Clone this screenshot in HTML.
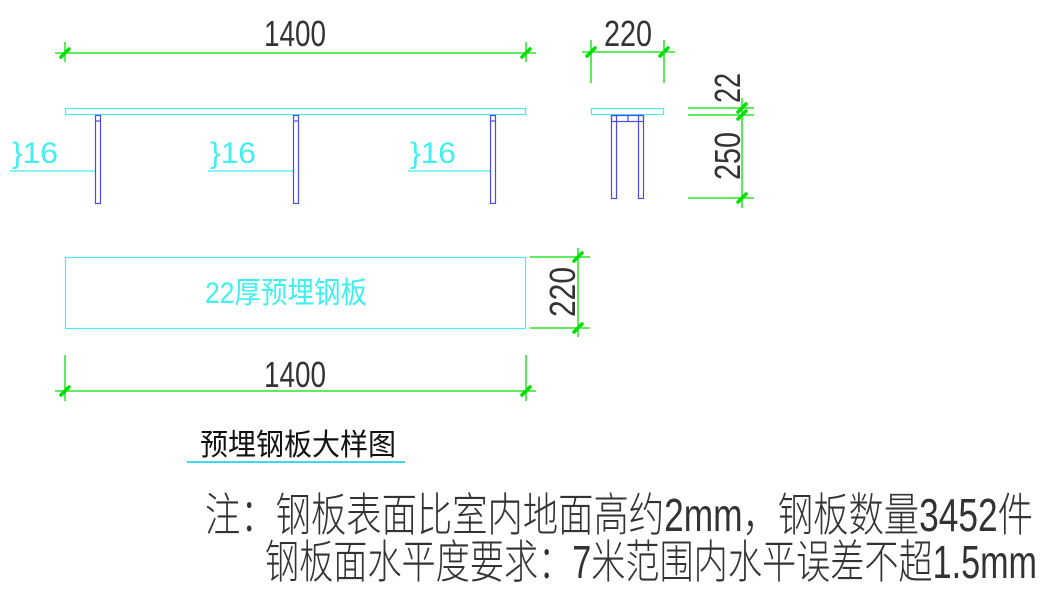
<!DOCTYPE html>
<html><head><meta charset="utf-8"><style>
html,body{margin:0;padding:0;background:#fff;}
svg{display:block;}
text{font-family:"Liberation Sans","Noto Sans CJK SC",sans-serif;}
</style></head><body>
<svg width="1055" height="592" viewBox="0 0 1055 592" xmlns="http://www.w3.org/2000/svg">
<g stroke="#00e000" stroke-width="1.3" fill="none">
  <line x1="55" y1="53" x2="536" y2="53"/>
  <line x1="65" y1="42" x2="65" y2="62"/>
  <line x1="526" y1="42" x2="526" y2="62"/>
  <line x1="582" y1="52" x2="675" y2="52"/>
  <line x1="591" y1="40" x2="591" y2="83"/>
  <line x1="664" y1="40" x2="664" y2="83"/>
  <line x1="742" y1="98" x2="742" y2="208"/>
  <line x1="688" y1="108" x2="754" y2="108"/>
  <line x1="688" y1="115" x2="754" y2="115"/>
  <line x1="688" y1="198" x2="754" y2="198"/>
  <line x1="578" y1="248" x2="578" y2="337"/>
  <line x1="530" y1="257" x2="590" y2="257"/>
  <line x1="530" y1="328" x2="590" y2="328"/>
  <line x1="55" y1="391" x2="536" y2="391"/>
  <line x1="65" y1="355" x2="65" y2="401"/>
  <line x1="526" y1="355" x2="526" y2="401"/>
</g>
<g stroke="#00e000" stroke-width="3.5" stroke-linecap="round">
  <line x1="61" y1="57" x2="69" y2="49"/><line x1="522" y1="57" x2="530" y2="49"/>
  <line x1="587" y1="56" x2="595" y2="48"/><line x1="660" y1="56" x2="668" y2="48"/>
  <line x1="738" y1="112" x2="746" y2="104"/><line x1="738" y1="119" x2="746" y2="111"/><line x1="738" y1="202" x2="746" y2="194"/>
  <line x1="574" y1="261" x2="582" y2="253"/><line x1="574" y1="332" x2="582" y2="324"/>
  <line x1="61" y1="395" x2="69" y2="387"/><line x1="522" y1="395" x2="530" y2="387"/>
</g>
<g fill="none" stroke="#40f0f0" stroke-width="1.2">
  <rect x="65.5" y="108.5" width="460" height="6"/>
  <rect x="591.5" y="108.5" width="72" height="6"/>
  <rect x="65.5" y="257.5" width="460" height="71"/>
  <line x1="10" y1="171" x2="95" y2="171"/>
  <line x1="208" y1="171" x2="293" y2="171"/>
  <line x1="408" y1="171" x2="490" y2="171"/>
</g>
<line x1="187" y1="462" x2="405" y2="462" stroke="#40d8f0" stroke-width="2"/>
<g fill="none" stroke="#4a4af0" stroke-width="1.2">
  <rect x="95.5" y="115.5" width="5" height="88"/><line x1="95" y1="121" x2="101" y2="121"/>
  <rect x="293.5" y="115.5" width="5" height="88"/><line x1="293" y1="121" x2="299" y2="121"/>
  <rect x="490.5" y="115.5" width="5" height="88"/><line x1="490" y1="121" x2="496" y2="121"/>
  <rect x="611.5" y="115.5" width="5" height="83"/>
  <rect x="638.5" y="115.5" width="5" height="83"/>
  <rect x="611.5" y="115.5" width="32" height="6"/><line x1="628" y1="115" x2="628" y2="121"/>
</g>
<g fill="#333" font-size="36">
  <text x="295" y="46" text-anchor="middle" textLength="62" lengthAdjust="spacingAndGlyphs">1400</text>
  <text x="628" y="46" text-anchor="middle" textLength="48" lengthAdjust="spacingAndGlyphs">220</text>
  <text x="295" y="387" text-anchor="middle" textLength="62" lengthAdjust="spacingAndGlyphs">1400</text>
  <text transform="translate(740,88) rotate(-90)" text-anchor="middle" textLength="30" lengthAdjust="spacingAndGlyphs">22</text>
  <text transform="translate(740,156) rotate(-90)" text-anchor="middle" textLength="48" lengthAdjust="spacingAndGlyphs">250</text>
  <text transform="translate(575,292) rotate(-90)" text-anchor="middle" textLength="50" lengthAdjust="spacingAndGlyphs">220</text>
</g>
<g fill="#40f0f0" font-size="30">
  <text x="12" y="163" textLength="46" lengthAdjust="spacingAndGlyphs">}16</text>
  <text x="210" y="163" textLength="46" lengthAdjust="spacingAndGlyphs">}16</text>
  <text x="410" y="163" textLength="46" lengthAdjust="spacingAndGlyphs">}16</text>
  <text x="205" y="303" textLength="162" lengthAdjust="spacingAndGlyphs">22厚预埋钢板</text>
</g>
<text x="200" y="455" font-size="30" fill="#111" textLength="196" lengthAdjust="spacingAndGlyphs">预埋钢板大样图</text>
<g fill="#333" font-size="46" font-weight="300">
  <text x="205" y="531" textLength="828" lengthAdjust="spacingAndGlyphs">注：钢板表面比室内地面高约2mm，钢板数量3452件</text>
  <text x="265" y="578" textLength="772" lengthAdjust="spacingAndGlyphs">钢板面水平度要求：7米范围内水平误差不超1.5mm</text>
</g>
</svg>
</body></html>
